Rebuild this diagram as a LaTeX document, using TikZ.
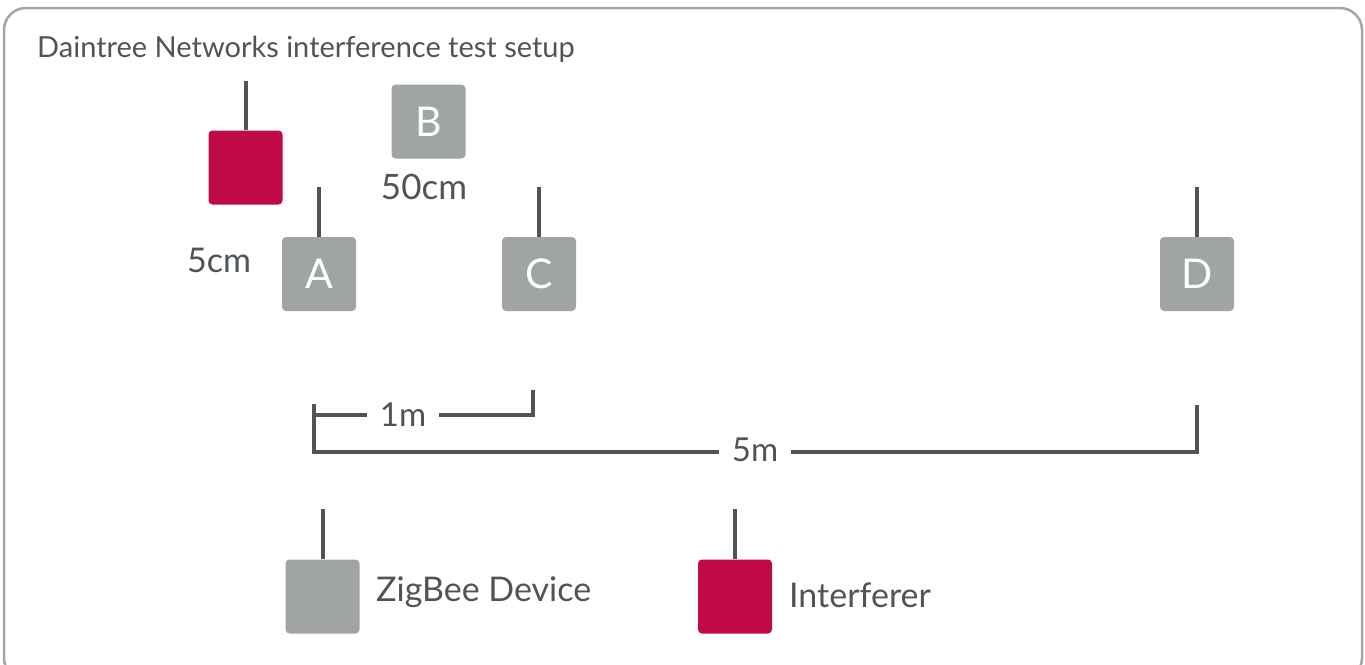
\documentclass[tikz,border=0pt]{standalone}
\usepackage{fontspec}
\setmainfont{Lato}
\definecolor{frame}{HTML}{A3A8A7}
\definecolor{devgray}{HTML}{A0A5A4}
\definecolor{intred}{HTML}{C00A45}
\definecolor{ink}{HTML}{4F5459}
\begin{document}
\begin{tikzpicture}[x=1pt,y=-1pt,
  dev/.style={fill=devgray,rounded corners=4pt,minimum width=74pt,minimum height=74pt,inner sep=0pt,text=white,font=\fontsize{41}{43}\selectfont},
  intf/.style={fill=intred,rounded corners=4pt,minimum width=74pt,minimum height=74pt,inner sep=0pt},
  ant/.style={draw=ink,line width=4pt},
  dim/.style={draw=ink,line width=4pt},
  lbl/.style={text=ink,inner sep=0pt,font=\fontsize{34}{36}\selectfont},
  dimlbl/.style={text=ink,fill=white,inner xsep=13pt,inner ysep=2pt,font=\fontsize{33}{35}\selectfont}]
\useasboundingbox (0,0) rectangle (1365,664);
\draw[frame,line width=2.5pt,rounded corners=22pt] (4,8) rectangle (1362,680);
\node[anchor=base west,text=ink,inner sep=0pt,font=\fontsize{29}{31}\selectfont] (title) at (37,57) {Daintree Networks interference test setup};
% devices
\node[intf] (I) at (245.5,167.5) {};
\node[dev] (B) at (428.5,121.5) {B};
\node[dev] (A) at (319,274) {A};
\node[dev] (C) at (539,274) {C};
\node[dev] (D) at (1197,274) {D};
\draw[ant] (I.north) -- +(0,-49);
\draw[ant] (A.north) -- +(0,-50);
\draw[ant] (C.north) -- +(0,-50);
\draw[ant] (D.north) -- +(0,-50);
\node[lbl,font=\fontsize{35}{37}\selectfont] (l50) at (424,187) {50cm};
\node[lbl] (l5) at (219,260) {5cm};
% dimensions
\coordinate (d1) at (314,404);
\coordinate (d2) at (314,452);
\coordinate (d3) at (1197,452);
\coordinate (d4) at (1197,405);
\coordinate (e1) at (314,415);
\coordinate (e2) at (533,415);
\coordinate (e3) at (533,390);
\draw[dim] (d1) -- (d2) -- (d3) -- (d4);
\draw[dim] (e1) -- (e2) -- (e3);
\node[dimlbl] (m1) at (403,415) {1m};
\node[dimlbl] (m5) at (755,450) {5m};
% legend
\node[dev] (LZ) at (322.5,596.5) {};
\node[intf] (LI) at (735,596.5) {};
\draw[ant] (LZ.north) -- +(0,-50);
\draw[ant] (LI.north) -- +(0,-50);
\node[lbl,anchor=west] (tz) at (376,592) {ZigBee Device};
\node[lbl,anchor=west] (ti) at (789,595) {Interferer};
\end{tikzpicture}
\end{document}
